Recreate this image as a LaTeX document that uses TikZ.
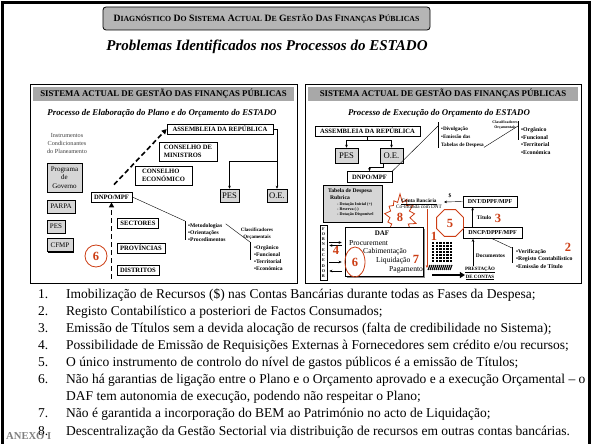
\documentclass[tikz,border=0pt]{standalone}
\usepackage{fontspec}
\setmainfont{Liberation Serif}
\usetikzlibrary{arrows.meta,shadows,shapes.geometric,shapes.symbols}

\definecolor{numred}{HTML}{CC3D14}
\definecolor{barfill}{HTML}{A8A8A8}
\definecolor{docfill}{HTML}{D6D6D6}
\definecolor{anexgray}{HTML}{7F7F7F}
\newcommand{\smc}[2]{#1{\fontsize{7.8}{8}\selectfont #2}}

\begin{document}
\begin{tikzpicture}[x=1pt,y=-1pt,>={Stealth[length=3pt,width=2.6pt]},
    every node/.style={inner sep=0pt},
    box/.style={draw,line width=0.7pt,fill=white,inner xsep=3pt,inner ysep=1.5pt,align=center,
      font=\bfseries\fontsize{6.6}{7.6}\selectfont},
    docbox/.style={draw,line width=0.5pt,fill=docfill,align=center,
      drop shadow={shadow xshift=1.3pt,shadow yshift=-1.3pt,fill=black,opacity=1},
      font=\fontsize{7}{8.5}\selectfont},
    pagebox/.style={docbox,font=\fontsize{8.6}{9}\selectfont},
    bar/.style={fill=barfill,minimum height=14pt,font=\bfseries\fontsize{8.8}{9}\selectfont},
    subhead/.style={font=\bfseries\itshape\fontsize{8.8}{9}\selectfont},
    bullets/.style={align=left,font=\bfseries\fontsize{5.6}{7}\selectfont},
    lbl/.style={font=\bfseries\fontsize{5.5}{6}\selectfont},
    phase/.style={anchor=west,font=\fontsize{7.6}{8}\selectfont},
    probnum/.style={text=numred,font=\bfseries\fontsize{12.5}{12.5}\selectfont},
    ring/.style={probnum,draw=numred,line width=0.8pt},
    dasharrow/.style={line width=1.6pt,dash pattern=on 5pt off 3pt,-{Triangle[length=5pt,width=5pt]}},
    item/.style={anchor=base west,font=\fontsize{13.5}{14}\selectfont}]
  \useasboundingbox (0,0) rectangle (592,444);
  \clip (0,0) rectangle (592,444);
  \draw[line width=3pt] (2.5,2.5) rectangle (589.5,460);

  % title
  \node[draw,rounded corners=3pt,fill=barfill!85,line width=0.8pt,minimum width=327pt,minimum height=23pt,
    font=\bfseries\fontsize{9.7}{10}\selectfont] (ttl) at (266.5,18.5)
    {\smc{D}{IAGNÓSTICO} \smc{D}{O} \smc{S}{ISTEMA} \smc{A}{CTUAL} \smc{D}{E} \smc{G}{ESTÃO} \smc{D}{AS} \smc{F}{INANÇAS} \smc{P}{ÚBLICAS}};
  \node[font=\bfseries\itshape\fontsize{15}{15}\selectfont] (sub) at (267,47)
    {Problemas Identificados nos Processos do ESTADO};

  % plano e orcamento
  \draw[line width=0.9pt] (30,84) rectangle (297,283);
  \node[bar,minimum width=261pt] (lhead) at (163.5,94) {SISTEMA ACTUAL DE GESTÃO DAS FINANÇAS PÚBLICAS};
  \node[subhead] (lsub) at (162,113) {Processo de Elaboração do Plano e do Orçamento do ESTADO};
  \node[align=center,text=black!75,font=\fontsize{6.2}{8}\selectfont] (linstr) at (67,143)
    {Instrumentos\\Condicionantes\\do Planeamento};
  \node[docbox,minimum width=35pt,minimum height=29pt] (lprog) at (64.5,177.5) {Programa\\de\\Governo};
  \node[docbox,minimum width=28pt,minimum height=13pt] (lparpa) at (61,206.5) {PARPA};
  \node[docbox,minimum width=18pt,minimum height=13pt] (lpes) at (56,226.5) {PES};
  \node[docbox,minimum width=26pt,minimum height=13pt] (lcfmp) at (60,245) {CFMP};
  \node[box,minimum width=106pt,minimum height=10pt] (lar) at (220,129) {ASSEMBLEIA DA REPÚBLICA};
  \node[box,align=left,minimum width=58pt,minimum height=19pt] (lcm) at (188,151.5) {CONSELHO DE\\MINISTROS};
  \node[box,align=left,minimum width=57pt,minimum height=19pt] (lce) at (163.5,175.5) {CONSELHO\\ECONÓMICO};
  \node[pagebox,minimum width=19pt,minimum height=13pt] (lpes2) at (229.5,195.5) {PES};
  \node[pagebox,minimum width=20pt,minimum height=13pt] (loe) at (277,195.5) {O.E.};
  \node[box,minimum width=41pt,minimum height=10pt] (ldnpo) at (111.5,197) {DNPO/MPF};
  \node[box,minimum width=40pt,minimum height=10pt] (lsect) at (138,223) {SECTORES};
  \node[box,minimum width=46pt,minimum height=10pt] (lprov) at (141,248) {PROVÍNCIAS};
  \node[box,minimum width=40pt,minimum height=10pt] (ldist) at (138,270) {DISTRITOS};
  \node[ring,circle,minimum size=22pt] (lsix) at (96,256) {6};
  \node[bullets,anchor=west] (lmet) at (188,233) {•Metodologias\\•Orientações\\•Procedimentos};
  \node[align=center,font=\bfseries\fontsize{5}{7}\selectfont] (lclass) at (257,233.5) {Classificadores\\Orçamentais};
  \node[bullets,anchor=west] (lorg) at (254,258.5) {•Orgânico\\•Funcional\\•Territorial\\•Económica};
  \coordinate (lbot) at (111.5,279);
  \coordinate (lsplit) at (277,161);
  \coordinate (lb1t) at (185,221);
  \coordinate (lb1b) at (185,240);
  \coordinate (lb2t) at (250,242);
  \coordinate (lb2b) at (250,260);

  \draw[dasharrow] ([shift={(2.5,-7)}]ldnpo.north) -- (lar.west);
  \draw[dasharrow] (lbot) -- (ldnpo.south);
  \draw[->] (lar.east) -| (loe.north);
  \draw[->] (lsplit) -| (lpes2.north);
  \draw (ldnpo.east) -- (lb1t);
  \draw[line width=0.8pt] (lb1t) -- (lb1b);
  \draw (lmet.north east) -- (lb2t);
  \draw[line width=0.8pt] (lb2t) -- (lb2b);

  % execucao
  \draw[line width=0.9pt] (305,84) rectangle (581,283);
  \node[bar,minimum width=270pt] (rhead) at (443,94) {SISTEMA ACTUAL DE GESTÃO DAS FINANÇAS PÚBLICAS};
  \node[subhead] (rsub) at (439,113) {Processo de Execução do Orçamento do ESTADO};
  \node[box,minimum width=105pt,minimum height=10pt] (rar) at (367.5,131) {ASSEMBLEIA DA REPÚBLICA};
  \node[pagebox,minimum width=23pt,minimum height=15pt] (rpes) at (346.5,155.5) {PES};
  \node[pagebox,minimum width=23pt,minimum height=15pt] (roe) at (391.5,155.5) {O.E.};
  \node[box,minimum width=45pt,minimum height=11pt] (rdnpo) at (369.5,177) {DNPO/MPF};
  \node[bullets,anchor=west,font=\bfseries\fontsize{5.2}{7.8}\selectfont] (rdiv) at (441,137)
    {•Divulgação\\•Emissão das\\Tabelas de Despesa};
  \node[align=center,font=\bfseries\fontsize{3.9}{4.5}\selectfont] (rclass) at (505,125) {Classificadores\\Orçamentais};
  \node[bullets,anchor=west,font=\bfseries\fontsize{5.8}{7.7}\selectfont] (rorg) at (521,141)
    {•Orgânico\\•Funcional\\•Territorial\\•Económica};
  \coordinate (rsplit) at (367.5,140);
  \coordinate (rb1t) at (438,122);
  \coordinate (rb1b) at (438,148);
  \coordinate (rb2t) at (518,121);
  \coordinate (rb2b) at (518,140);

  \draw (rar.south) -- (rsplit);
  \draw[->] (rsplit) -| (rpes.north);
  \draw[->] (rsplit) -| (roe.north);
  \draw[->] ([xshift=-8pt]roe.south) -- ++(0,4) -| (rdnpo.north);
  \draw (rdnpo.north east) -- ([shift={(0,4)}]rb1t);
  \draw[line width=0.8pt] (rb1t) -- (rb1b);
  \draw (rdiv.south east) -- ([shift={(0,5)}]rb2t);
  \draw[line width=0.8pt] (rb2t) -- (rb2b);

  \node[docbox,minimum width=59pt,minimum height=37pt] (rtab) at (352.5,203.5) {};
  \node[font=\bfseries\fontsize{5.6}{6}\selectfont] (rtabt) at (350,191) {Tabela de Despesa};
  \node[font=\bfseries\fontsize{5.6}{6}\selectfont] (rtabr) at (340,198) {Rubrica};
  \node[align=left,anchor=west,font=\bfseries\fontsize{4.1}{4.6}\selectfont] (rtabd) at (337,209.5)
    {- Dotação Inicial (+)\\- Reserva (-)\\- Dotação Disponível};
  \node[starburst,draw=numred,fill=white,line width=0.8pt,minimum width=38pt,minimum height=46pt,
    starburst points=13,starburst point height=9pt,random starburst=7] (rstar) at (400,216) {};
  \node[probnum] (r8) at (400,217) {8};
  \node[align=center,font=\bfseries\fontsize{5.2}{6.2}\selectfont] (rconta) at (419,204)
    {\underline{Conta Bancária}\\{\mdseries Co-titulada com DNT}};
  \node[lbl] (rdol) at (450,196) {\$};
  \node[box,minimum width=54pt,minimum height=11pt,font=\bfseries\fontsize{6}{7}\selectfont] (rdnt) at (490,201.5) {DNT/DPPF/MPF};
  \node[box,minimum width=59pt,minimum height=11pt,font=\bfseries\fontsize{6}{7}\selectfont] (rdncp) at (492.5,233) {DNCP/DPPF/MPF};
  \node[lbl] (rtit) at (484,218) {Título};
  \node[probnum] (r3) at (498,218) {3};
  \node[ring,regular polygon,regular polygon sides=8,minimum size=29pt] (r5) at (450,223) {5};
  \node[bullets,anchor=west,font=\bfseries\fontsize{5.8}{7.5}\selectfont] (rver) at (516,258.5)
    {•Verificação\\•Registo Contabilístico\\•Emissão de Título};
  \node[probnum] (r2) at (568,247.5) {2};
  \node[align=center,font=\bfseries\fontsize{4.9}{8}\selectfont] (rprest) at (480,273)
    {\underline{PRESTAÇÃO}\\\underline{DE CONTAS}};
  \node[lbl] (rdoc) at (490.5,256) {Documentos};
  \coordinate (rcash) at (444,202);
  \coordinate (rb3t) at (512,247);
  \coordinate (rb3b) at (512,263);

  \draw[->] (rdnt.west) -- (rcash);
  \draw[->,line width=0.8pt] ([xshift=10pt]rdncp.north west) -- ([xshift=10pt]rdncp.north west |- rdnt.south);
  \draw (rdncp.south) -- ([shift={(0,1)}]rb3t);
  \draw[line width=0.8pt] (rb3t) -- (rb3b);
  \draw[->,line width=0.8pt] ([xshift=-7pt]rprest.north) -- ([xshift=-7pt]rprest.north |- rdncp.south);

  % DAF
  \node[draw,line width=0.7pt,fill=white,minimum width=78pt,minimum height=49pt,
    drop shadow={shadow xshift=1.5pt,shadow yshift=-1.5pt,fill=black!45,opacity=1}] (rdaf) at (384,251.5) {};
  \node[font=\bfseries\fontsize{7}{7}\selectfont] (rdaft) at (382,233) {DAF};
  \node[phase] (rproc) at (349,243) {Procurement};
  \node[phase] (rcab) at (363,252) {Cabimentação};
  \node[phase] (rliq) at (376,261) {Liquidação};
  \node[phase] (rpag) at (389,270) {Pagamento};
  \node[probnum] (r7) at (416,259) {7};
  \node[ring,ellipse,minimum width=20pt,minimum height=30pt] (r6) at (355,262) {6};
  \node[draw,line width=0.6pt,fill=white,minimum width=7pt,minimum height=55pt,align=center,
    font=\bfseries\fontsize{4.2}{5.3}\selectfont] (rforn) at (323.5,252.5) {F\\O\\R\\N\\E\\C\\E\\D\\O\\R};
  \draw[->,shorten <=2pt,shorten >=3pt] ([yshift=10pt]rforn.east) -- ([yshift=10pt]rforn.east -| rdaf.west);
  \draw[<-,shorten <=2pt,shorten >=3pt] ([yshift=7pt]rforn.east) -- ([yshift=7pt]rforn.east -| rdaf.west);
  \draw[->,shorten <=2pt,shorten >=3pt] ([yshift=-9.5pt]rforn.east) -- ([yshift=-9.5pt]rforn.east -| rdaf.west);
  \draw[<-,shorten <=2pt,shorten >=3pt] ([yshift=-18.5pt]rforn.east) -- ([yshift=-18.5pt]rforn.east -| rdaf.west);
  \node[probnum] (r4) at (336,250) {4};

  \coordinate (rpayend) at (427,268);
  \draw[->,numred,line width=0.8pt] (rconta.south -| rpayend) -- (rpayend);
  \node[probnum] (r1) at (434,236) {1};
  \foreach \c in {0,...,5}
    \foreach \r in {0,...,6}
      \fill (432+\c*3.6,242+\r*3) rectangle ++(2.3,1.9);
  \foreach \i in {0,...,11}
    \draw[line width=1.1pt] (428+\i*2,270) -- ++(2,-5);
  \coordinate (rdocs) at (432,275);
  \draw[line width=2.2pt,-{Triangle[length=5pt,width=6pt]}] (rdocs) -- (rprest.west |- rdocs);

  % problemas
  \node[item] (it1) at (38,298) {\makebox[28pt][l]{1.}Imobilização de Recursos (\$) nas Contas Bancárias durante todas as Fases da Despesa;};
  \node[item] (it2) at (38,315.1) {\makebox[28pt][l]{2.}Registo Contabilístico a posteriori de Factos Consumados;};
  \node[item] (it3) at (38,332.3) {\makebox[28pt][l]{3.}Emissão de Títulos sem a devida alocação de recursos (falta de credibilidade no Sistema);};
  \node[item] (it4) at (38,349.4) {\makebox[28pt][l]{4.}Possibilidade de Emissão de Requisições Externas à Fornecedores sem crédito e/ou recursos;};
  \node[item] (it5) at (38,366.5) {\makebox[28pt][l]{5.}O único instrumento de controlo do nível de gastos públicos é a emissão de Títulos;};
  \node[item] (it6) at (38,383.6) {\makebox[28pt][l]{6.}Não há garantias de ligação entre o Plano e o Orçamento aprovado e a execução Orçamental – o};
  \node[item] (it6b) at (66,400.7) {DAF tem autonomia de execução, podendo não respeitar o Plano;};
  \node[item] (it7) at (38,417.9) {\makebox[28pt][l]{7.}Não é garantida a incorporação do BEM ao Património no acto de Liquidação;};
  \node[item] (it8) at (38,435) {\makebox[28pt][l]{8.}Descentralização da Gestão Sectorial via distribuição de recursos em outras contas bancárias.};
  \node[anchor=base west,text=anexgray,font=\bfseries\fontsize{10.6}{11}\selectfont] (anexo) at (6,439) {ANEXO I};
\end{tikzpicture}
\end{document}
